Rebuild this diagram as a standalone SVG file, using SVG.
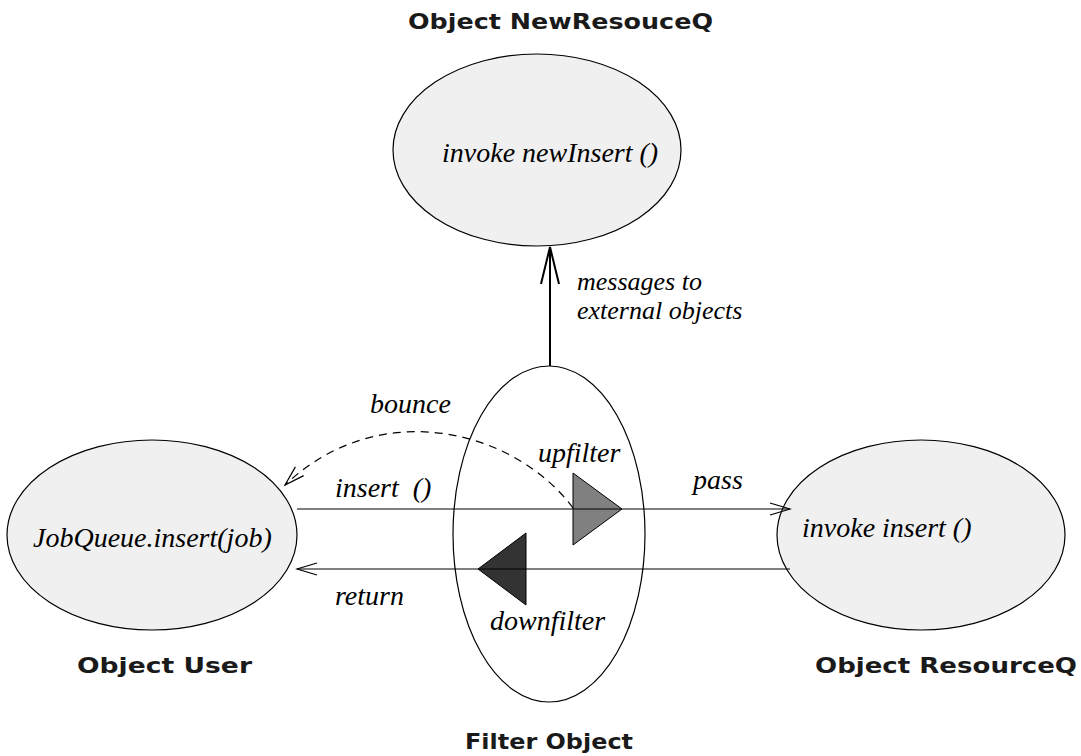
<svg xmlns="http://www.w3.org/2000/svg" width="1081" height="756" viewBox="0 0 1081 756">
<style>
.obj{fill:#f0f0f0;stroke:#000;stroke-width:1.2}
.flt{fill:none;stroke:#000;stroke-width:1.2}
.it{font-family:"Liberation Serif",serif;font-style:italic;font-size:28px;fill:#000}
.bd{font-family:"DejaVu Sans","Liberation Sans",sans-serif;font-weight:bold;font-size:22px;fill:#1a1a1a}
.ln{fill:none;stroke:#000;stroke-width:1.2}
</style>
<defs>
<marker id="open" markerUnits="userSpaceOnUse" markerWidth="24" markerHeight="16" viewBox="0 0 24 16" refX="22" refY="8" orient="auto">
<path d="M2,2 L22,8 L2,14" fill="none" stroke="#000" stroke-width="1.2"/>
</marker>
</defs>
<rect width="1081" height="756" fill="#fff"/>

<g id="node-newresourceq">
<ellipse class="obj" cx="537" cy="150" rx="144" ry="96"/>
<text class="it" x="442" y="162">invoke newInsert ()</text>
<text class="bd" x="408" y="29" textLength="305" lengthAdjust="spacingAndGlyphs">Object NewResouceQ</text>
</g>

<g id="node-user">
<ellipse class="obj" cx="152" cy="535" rx="145" ry="95"/>
<text class="it" x="33" y="547">JobQueue.insert(job)</text>
<text class="bd" x="77" y="673" textLength="175" lengthAdjust="spacingAndGlyphs">Object User</text>
</g>

<g id="node-resourceq">
<ellipse class="obj" cx="921" cy="535" rx="144" ry="95"/>
<text class="it" x="802" y="537">invoke insert ()</text>
<text class="bd" x="815" y="673" textLength="262" lengthAdjust="spacingAndGlyphs">Object ResourceQ</text>
</g>

<g id="node-filter">
<ellipse class="flt" cx="549" cy="534" rx="96" ry="168"/>
<text class="bd" x="465" y="749" textLength="168" lengthAdjust="spacingAndGlyphs">Filter Object</text>
<polygon id="upfilter" points="573,473 573,545 622,509" fill="#808080" stroke="#000" stroke-width="1"/>
<polygon id="downfilter" points="526,533 526,605 478,569" fill="#333333" stroke="#000" stroke-width="1"/>
<text class="it" x="538" y="462">upfilter</text>
<text class="it" x="490" y="630">downfilter</text>
</g>

<g id="connectors">
<line class="ln" x1="297" y1="509" x2="790" y2="509" marker-end="url(#open)"/>
<line class="ln" x1="790" y1="569" x2="297" y2="569" marker-end="url(#open)"/>
<path class="ln" d="M573,508 C515,430 380,395 285,485" stroke-dasharray="8,6" marker-end="url(#open)"/>
<line x1="550" y1="366" x2="550" y2="247" stroke="#000" stroke-width="2"/>
<path d="M541,284 L550,247 L559,284" fill="none" stroke="#000" stroke-width="2"/>
<text class="it" x="335" y="497" xml:space="preserve">insert  ()</text>
<text class="it" x="693" y="489">pass</text>
<text class="it" x="335" y="605">return</text>
<text class="it" x="370" y="413">bounce</text>
<text class="it" x="577" y="290" style="font-size:26px">messages to</text>
<text class="it" x="577" y="319" style="font-size:26px">external objects</text>
</g>
</svg>
